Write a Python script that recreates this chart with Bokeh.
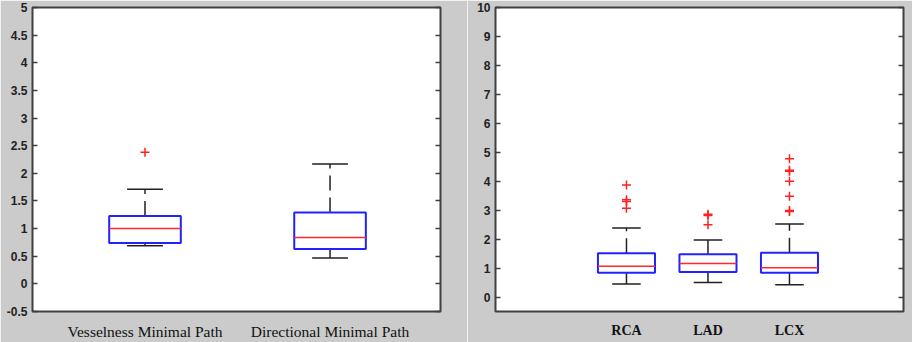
from bokeh.plotting import figure
from bokeh.models import LinearAxis, FixedTicker, Range1d, ColumnDataSource
from bokeh.layouts import row
from bokeh.embed import file_html
from bokeh.resources import INLINE

# ---- data (left panel) ----
left_categories = ["Vesselness Minimal Path", "Directional Minimal Path"]
left_lower = [0.69, 0.47]
left_q1 = [0.74, 0.63]
left_median = [1.00, 0.84]
left_q3 = [1.23, 1.29]
left_upper = [1.71, 2.17]
left_outliers = [[2.38], []]
left_yticks = [-0.5, 0, 0.5, 1, 1.5, 2, 2.5, 3, 3.5, 4, 4.5, 5]
left_ylabels = ["-0.5", "0", "0.5", "1", "1.5", "2", "2.5", "3", "3.5", "4", "4.5", "5"]

# ---- data (right panel) ----
right_categories = ["RCA", "LAD", "LCX"]
right_lower = [0.45, 0.50, 0.42]
right_q1 = [0.835, 0.86, 0.835]
right_median = [1.065, 1.155, 1.01]
right_q3 = [1.51, 1.48, 1.53]
right_upper = [2.38, 1.97, 2.52]
right_outliers = [[3.87, 3.36, 3.30, 3.07], [2.86, 2.82, 2.50],
                  [4.78, 4.38, 4.34, 4.00, 3.48, 2.99, 2.95]]
right_yticks = [0, 1, 2, 3, 4, 5, 6, 7, 8, 9, 10]
right_ylabels = ["0", "1", "2", "3", "4", "5", "6", "7", "8", "9", "10"]

BG = "#cbcbcb"
FRAME = "#404040"


def make_panel(cats, lower, q1, med, q3, upper, outl, yticks, ylabels,
               xr, yr, box_w, width, mbl, mbr, label_style, label_size):
    p = figure(width=width, height=342, output_backend="svg", toolbar_location=None,
               x_range=Range1d(*xr), y_range=Range1d(*yr),
               min_border_left=mbl, min_border_right=mbr,
               min_border_top=7, min_border_bottom=29)
    p.border_fill_color = BG
    p.background_fill_color = "white"
    p.outline_line_color = FRAME
    p.outline_line_width = 2
    p.grid.visible = False

    pos = list(range(1, len(cats) + 1))
    src = ColumnDataSource(dict(
        x=pos,
        left=[x - box_w / 2 for x in pos], right=[x + box_w / 2 for x in pos],
        cl=[x - box_w / 4 for x in pos], cr=[x + box_w / 4 for x in pos],
        lower=lower, q1=q1, med=med, q3=q3, upper=upper))

    # whiskers (dashed)
    p.segment(x0="x", y0="q3", x1="x", y1="upper", source=src,
              line_color="#202020", line_width=1.5, line_dash="15 7")
    p.segment(x0="x", y0="q1", x1="x", y1="lower", source=src,
              line_color="#202020", line_width=1.5, line_dash="15 7")
    # caps
    p.segment(x0="cl", y0="upper", x1="cr", y1="upper", source=src,
              line_color="#202020", line_width=1.5)
    p.segment(x0="cl", y0="lower", x1="cr", y1="lower", source=src,
              line_color="#202020", line_width=1.5)
    # boxes
    p.quad(left="left", right="right", bottom="q1", top="q3", source=src,
           fill_color=None, line_color="#2222ff", line_width=2)
    # medians
    p.segment(x0="left", y0="med", x1="right", y1="med", source=src,
              line_color="#ff2a2a", line_width=1.5)
    # outliers
    ox, oy = [], []
    for x, vals in zip(pos, outl):
        for v in vals:
            ox.append(x)
            oy.append(v)
    p.scatter(ox, oy, marker="cross", size=9, line_color="#ff2020", line_width=1.5)

    # x axis
    xa = p.xaxis[0]
    xa.ticker = FixedTicker(ticks=pos)
    xa.major_label_overrides = {x: c for x, c in zip(pos, cats)}
    xa.axis_line_color = None
    xa.major_tick_line_color = None
    xa.minor_tick_line_color = None
    xa.major_label_standoff = 5
    xa.major_label_text_font = "Liberation Serif"
    xa.major_label_text_font_size = label_size
    xa.major_label_text_font_style = label_style
    xa.major_label_text_color = "#111111"

    # y axis (left)
    ya = p.yaxis[0]
    ya.ticker = FixedTicker(ticks=yticks)
    ya.major_label_overrides = {t: l for t, l in zip(yticks, ylabels)}
    ya.axis_line_color = None
    ya.major_tick_in = 5
    ya.major_tick_out = 0
    ya.major_tick_line_color = FRAME
    ya.major_tick_line_width = 1.5
    ya.minor_tick_line_color = None
    ya.major_label_standoff = 5
    ya.major_label_text_font = "Liberation Sans"
    ya.major_label_text_font_size = "12px"
    ya.major_label_text_font_style = "bold"
    ya.major_label_text_color = "#222222"

    # right axis: ticks only, no labels
    ra = LinearAxis(ticker=FixedTicker(ticks=yticks))
    ra.axis_line_color = None
    ra.major_tick_in = 5
    ra.major_tick_out = 0
    ra.major_tick_line_color = FRAME
    ra.major_tick_line_width = 1.5
    ra.minor_tick_line_color = None
    ra.major_label_text_color = None
    ra.major_label_standoff = 0
    p.add_layout(ra, "right")
    return p


left = make_panel(left_categories, left_lower, left_q1, left_median, left_q3,
                  left_upper, left_outliers, left_yticks, left_ylabels,
                  (0.392, 2.597), (-0.5, 5), 0.387, 467, 32, 27, "normal", "15.5px")
right = make_panel(right_categories, right_lower, right_q1, right_median, right_q3,
                   right_upper, right_outliers, right_yticks, right_ylabels,
                   (-0.607, 4.399), (-0.5, 10), 0.70, 445, 28, 9, "bold", "14px")

p = row(left, right, spacing=0)
open("out.html", "w").write(file_html(p, INLINE))
